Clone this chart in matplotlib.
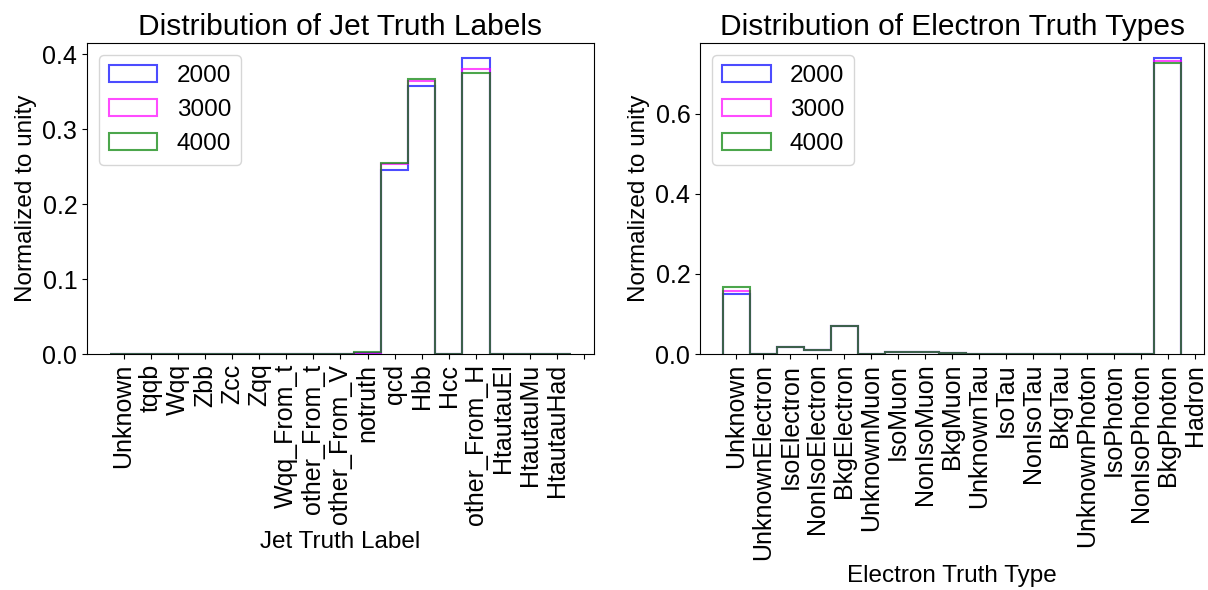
import numpy as np
import matplotlib
matplotlib.use('Agg')
import matplotlib.pyplot as plt

plt.rcParams['font.family'] = ['Liberation Sans', 'DejaVu Sans']

# mass points
masses = ['2000', '3000', '4000']
colors = ['blue', 'magenta', 'green']

# jet truth label categories (fractions per category)
jet_labels = ['Unknown', 'tqqb', 'Wqq', 'Zbb', 'Zcc', 'Zqq', 'Wqq_From_t', 'other_From_t',
              'other_From_V', 'notruth', 'qcd', 'Hbb', 'Hcc', 'other_From_H',
              'HtautauEl', 'HtautauMu', 'HtautauHad']
jet_2000 = [0, 0, 0, 0, 0, 0, 0, 0, 0, 0.002, 0.246, 0.357, 0, 0.395, 0, 0, 0]
jet_3000 = [0, 0, 0, 0, 0, 0, 0, 0, 0, 0.002, 0.254, 0.364, 0, 0.380, 0, 0, 0]
jet_4000 = [0, 0, 0, 0, 0, 0, 0, 0, 0, 0.003, 0.255, 0.367, 0, 0.375, 0, 0, 0]

# electron truth types
el_labels = ['Unknown', 'UnknownElectron', 'IsoElectron', 'NonIsoElectron', 'BkgElectron',
             'UnknownMuon', 'IsoMuon', 'NonIsoMuon', 'BkgMuon', 'UnknownTau', 'IsoTau',
             'NonIsoTau', 'BkgTau', 'UnknownPhoton', 'IsoPhoton', 'NonIsoPhoton',
             'BkgPhoton', 'Hadron']
el_2000 = [0.150, 0, 0.018, 0.009, 0.071, 0, 0.004, 0.005, 0.002, 0, 0, 0, 0, 0, 0, 0, 0.739]
el_3000 = [0.157, 0, 0.018, 0.009, 0.071, 0, 0.004, 0.005, 0.002, 0, 0, 0, 0, 0, 0, 0, 0.732]
el_4000 = [0.167, 0, 0.018, 0.009, 0.071, 0, 0.004, 0.005, 0.002, 0, 0, 0, 0, 0, 0, 0, 0.725]

fig = plt.figure(figsize=(12.08, 5.9), dpi=100)
ax1 = fig.add_axes([0.072, 0.40, 0.4197, 0.527])
ax2 = fig.add_axes([0.5795, 0.40, 0.4172, 0.527])


def draw(ax, values, labels, nbins, title, xlabel):
    centers = np.arange(nbins)
    edges = np.arange(nbins + 1) - 0.5
    for vals, m, c in zip(values, masses, colors):
        ax.hist(centers, bins=edges, weights=vals, histtype='step', color=c,
                alpha=0.7, linewidth=1.5, label=m)
    ticks = np.arange(len(labels) if len(labels) > nbins else nbins + 1)
    ax.set_xticks(ticks)
    ax.set_xticklabels(list(labels) + [''] * (len(ticks) - len(labels)), rotation=90)
    ax.tick_params(labelsize=18)
    ax.set_title(title, fontsize=21.5)
    ax.set_xlabel(xlabel, fontsize=17.5)
    ax.set_ylabel('Normalized to unity', fontsize=17.5)
    ax.legend(loc='upper left', fontsize=17.5)


draw(ax1, [jet_2000, jet_3000, jet_4000], jet_labels, len(jet_2000),
     'Distribution of Jet Truth Labels', 'Jet Truth Label')
draw(ax2, [el_2000, el_3000, el_4000], el_labels, len(el_2000),
     'Distribution of Electron Truth Types', 'Electron Truth Type')

fig.savefig('out.png')
